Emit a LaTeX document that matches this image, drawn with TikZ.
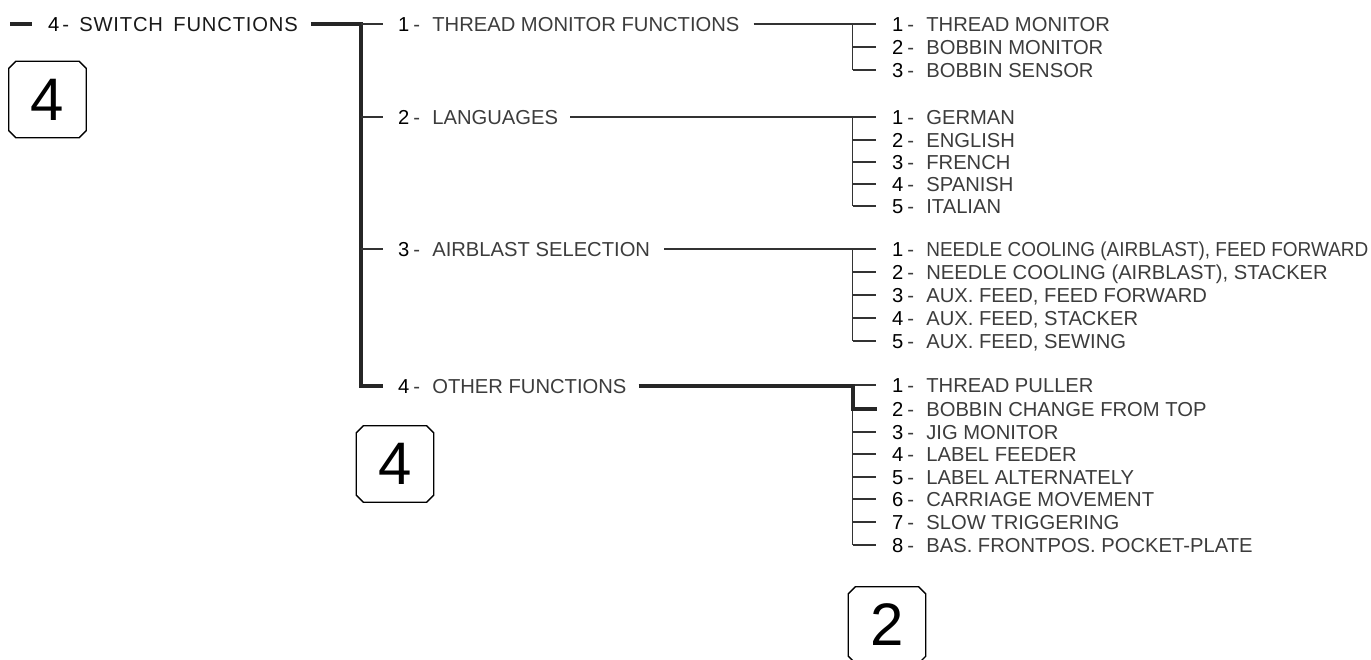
\documentclass[tikz,border=0pt]{standalone}
\usepackage{fontspec}
\setmainfont{Liberation Sans}
\newfontfamily\spacedfont[LetterSpace=4]{Liberation Sans}
\definecolor{txt}{HTML}{3C3C3C}
\newcommand\numlbl[2]{{\color{black}#1}\hspace{0.2em}-\hspace{0.6em}#2}
\newcommand\octobox[1]{\draw[boxline] ([xshift=7pt]#1.north west) -- ([xshift=-7pt]#1.north east) -- ([yshift=-7pt]#1.north east) -- ([yshift=7pt]#1.south east) -- ([xshift=-7pt]#1.south east) -- ([xshift=7pt]#1.south west) -- ([yshift=7pt]#1.south west) -- ([yshift=-7pt]#1.north west) -- cycle;}
\begin{document}
\begin{tikzpicture}[x=1pt,y=-1pt,
  lbl/.style={anchor=west, inner sep=0pt, font=\fontsize{20.2}{22}\selectfont, text=txt, text height=14.4pt, text depth=0pt},
  mainlbl/.style={lbl, text=black!90, font=\fontsize{20.2}{22}\spacedfont},
  thickline/.style={line width=4pt, black!85, line join=miter, line cap=butt},
  thinline/.style={line width=1.2pt, black!80},
  boxline/.style={line width=1.3pt, black},
  boxnum/.style={inner sep=0pt, minimum width=77pt, minimum height=76pt, font=\fontsize{60}{60}\selectfont}]
\useasboundingbox (0,0) rectangle (1371,659);
% main
\node[mainlbl] (m) at (48,24) {{\color{black}4}\hspace{0.15em}-\hspace{0.5em}SWITCH\hspace{0.2em} FUNCTIONS};
% level 2
\node[lbl] (a1) at (398,24) {\numlbl{1}{THREAD MONITOR FUNCTIONS}};
\node[lbl] (a2) at (398,117) {\numlbl{2}{LANGUAGES}};
\node[lbl] (a3) at (398,249) {\numlbl{3}{AIRBLAST SELECTION}};
\node[lbl] (a4) at (398,386) {\numlbl{4}{OTHER FUNCTIONS}};
% children 1
\node[lbl] (c11) at (892,24) {\numlbl{1}{THREAD MONITOR}};
\node[lbl] (c12) at (892,47) {\numlbl{2}{BOBBIN MONITOR}};
\node[lbl] (c13) at (892,70) {\numlbl{3}{BOBBIN SENSOR}};
% children 2
\node[lbl] (c21) at (892,117) {\numlbl{1}{GERMAN}};
\node[lbl] (c22) at (892,140) {\numlbl{2}{ENGLISH}};
\node[lbl] (c23) at (892,162) {\numlbl{3}{FRENCH}};
\node[lbl] (c24) at (892,184) {\numlbl{4}{SPANISH}};
\node[lbl] (c25) at (892,206) {\numlbl{5}{ITALIAN}};
% children 3
\node[lbl] (c31) at (892,249) {\numlbl{1}{\scalebox{0.94}[1]{NEEDLE COOLING (AIRBLAST), FEED FORWARD}}};
\node[lbl] (c32) at (892,272) {\numlbl{2}{NEEDLE COOLING (AIRBLAST), STACKER}};
\node[lbl] (c33) at (892,295) {\numlbl{3}{AUX. FEED, FEED FORWARD}};
\node[lbl] (c34) at (892,318) {\numlbl{4}{AUX. FEED, STACKER}};
\node[lbl] (c35) at (892,341) {\numlbl{5}{AUX. FEED, SEWING}};
% children 4
\node[lbl] (c41) at (892,385) {\numlbl{1}{THREAD PULLER}};
\node[lbl] (c42) at (892,409) {\numlbl{2}{BOBBIN CHANGE FROM TOP}};
\node[lbl] (c43) at (892,432) {\numlbl{3}{JIG MONITOR}};
\node[lbl] (c44) at (892,454) {\numlbl{4}{LABEL FEEDER}};
\node[lbl] (c45) at (892,477) {\numlbl{5}{LABEL ALTERNATELY}};
\node[lbl] (c46) at (892,499) {\numlbl{6}{CARRIAGE MOVEMENT}};
\node[lbl] (c47) at (892,522) {\numlbl{7}{SLOW TRIGGERING}};
\node[lbl] (c48) at (892,545) {\numlbl{8}{BAS. FRONTPOS. POCKET-PLATE}};
% boxes
\node[boxnum] (b1) at (47.5,99.5) {4};
\node[boxnum] (b2) at (395,464) {4};
\node[boxnum] (b3) at (887,625) {2};
\octobox{b1}
\octobox{b2}
\octobox{b3}
% buses
\coordinate (bus1) at (361,0);
\coordinate (bus2) at (852.5,0);
% main connectors
\draw[thickline] ([xshift=-38pt]m.west) -- ([xshift=-16pt]m.west);
\draw[thickline] ([xshift=13pt]m.east) -| (bus1 |- a4.west) -- ([xshift=-15pt]a4.west);
\foreach \a in {a1,a2,a3}
  \draw[thinline] (bus1 |- \a.west) -- ([xshift=-15pt]\a.west);
% group 1
\draw[thinline] ([xshift=14pt]a1.east) -- ([xshift=-16pt]c11.west);
\draw[thinline] (bus2 |- c11.west) -- (bus2 |- c13.west);
\foreach \c in {c12,c13}
  \draw[thinline] (bus2 |- \c.west) -- ([xshift=-16pt]\c.west);
% group 2
\draw[thinline] ([xshift=12pt]a2.east) -- ([xshift=-16pt]c21.west);
\draw[thinline] (bus2 |- c21.west) -- (bus2 |- c25.west);
\foreach \c in {c22,c23,c24,c25}
  \draw[thinline] (bus2 |- \c.west) -- ([xshift=-16pt]\c.west);
% group 3
\draw[thinline] ([xshift=14pt]a3.east) -- ([xshift=-16pt]c31.west);
\draw[thinline] (bus2 |- c31.west) -- (bus2 |- c35.west);
\foreach \c in {c32,c33,c34,c35}
  \draw[thinline] (bus2 |- \c.west) -- ([xshift=-16pt]\c.west);
% group 4
\draw[thinline] (bus2 |- c41.west) -- (bus2 |- c48.west);
\foreach \c in {c41,c43,c44,c45,c46,c47,c48}
  \draw[thinline] (bus2 |- \c.west) -- ([xshift=-16pt]\c.west);
\draw[thickline] ([xshift=12pt]a4.east) -| (bus2 |- c42.west) -- ([xshift=-15pt]c42.west);
\end{tikzpicture}
\end{document}
